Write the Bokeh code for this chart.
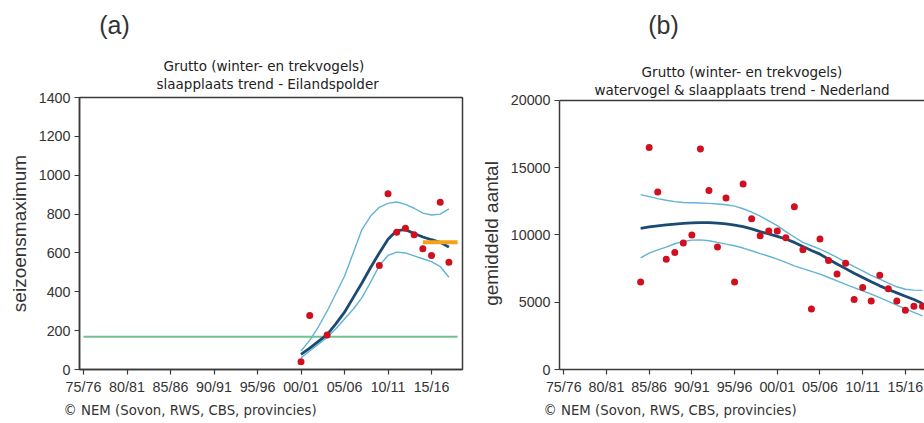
from bokeh.plotting import figure
from bokeh.layouts import row, column
from bokeh.models import FixedTicker, Range1d, Title, Label, Span
from bokeh.embed import file_html
from bokeh.resources import INLINE

# ---------------- data ----------------
tick_years = [1975, 1980, 1985, 1990, 1995, 2000, 2005, 2010, 2015]
tick_labels = ["75/76", "80/81", "85/86", "90/91", "95/96", "00/01", "05/06", "10/11", "15/16"]

# (a) Eilandspolder, roost counts (season maximum)
a_years = [2000, 2001, 2003, 2009, 2010, 2011, 2012, 2013, 2014, 2015, 2016, 2017]
a_counts = [40, 278, 178, 535, 904, 707, 727, 693, 621, 587, 861, 552]
a_trend_years = list(range(2000, 2018))
a_trend = [78, 110, 145, 180, 235, 295, 370, 445, 525, 600, 670, 715, 720, 700, 682, 668, 655, 630]
a_upper = [95, 150, 220, 300, 390, 480, 600, 720, 790, 835, 855, 862, 850, 830, 805, 795, 800, 827]
a_lower = [60, 95, 130, 165, 210, 260, 310, 370, 450, 535, 587, 604, 600, 585, 570, 555, 530, 475]
a_reference_years = [1975, 2018]
a_reference_level = [168, 168]
a_recent_years = [2014, 2018]
a_recent_mean = [655, 655]

# (b) Nederland, mean counts
b_years = list(range(1984, 2018))
b_counts = [6500, 16500, 13200, 8200, 8700, 9400, 10000, 16400, 13300, 9100,
            12750, 6500, 13800, 11200, 9950, 10300, 10300, 9800, 12100, 8900,
            4500, 9700, 8100, 7100, 7900, 5200, 6100, 5100, 7000, 6000,
            5100, 4400, 4700, 4700]
b_trend = [10500, 10600, 10680, 10750, 10810, 10860, 10900, 10920, 10920, 10880,
           10820, 10740, 10620, 10450, 10250, 10080, 9900, 9700, 9450, 9150,
           8850, 8580, 8200, 7850, 7500, 7150, 6840, 6520, 6220, 5950,
           5700, 5450, 5200, 4900]
b_upper = [13000, 12850, 12700, 12580, 12480, 12420, 12400, 12380, 12350, 12300,
           12250, 12150, 11950, 11700, 11400, 11050, 10700, 10250, 9850, 9450,
           9200, 8950, 8650, 8330, 7980, 7650, 7330, 7000, 6720, 6420,
           6150, 5970, 5900, 5880]
b_lower = [8300, 8650, 8900, 9100, 9350, 9520, 9620, 9640, 9570, 9450,
           9320, 9200, 9030, 8830, 8620, 8420, 8210, 7960, 7710, 7500,
           7300, 7090, 6840, 6590, 6330, 6090, 5840, 5600, 5340, 5060,
           4780, 4500, 4240, 3980]

title_line1 = "Grutto (winter- en trekvogels)"
a_title_line2 = "slaapplaats trend - Eilandspolder"
b_title_line2 = "watervogel & slaapplaats trend - Nederland"
source_note = "\u00a9 NEM (Sovon, RWS, CBS, provincies)"
panel_tags = ["(a)", "(b)"]

# ---------------- style ----------------
RED = "#d0101e"
NAVY = "#1b4a73"
LIGHT = "#62b4d4"
GREEN = "#72c28f"
ORANGE = "#f5a31a"
AXIS = "#3a3a3a"
TICKFONT = "Liberation Sans"
TXTFONT = "DejaVu Sans"


def style(p, yticks, ylabel):
    p.xgrid.visible = False
    p.ygrid.visible = False
    p.background_fill_color = "white"
    p.border_fill_color = "white"
    p.xaxis.ticker = FixedTicker(ticks=tick_years)
    p.xaxis.major_label_overrides = {y: l for y, l in zip(tick_years, tick_labels)}
    p.yaxis.ticker = FixedTicker(ticks=yticks)
    for ax in (p.xaxis[0], p.yaxis[0]):
        ax.axis_line_color = AXIS
        ax.axis_line_width = 1.5
        ax.major_tick_line_color = AXIS
        ax.major_tick_line_width = 1.2
        ax.major_tick_out = 5
        ax.major_tick_in = 0
        ax.minor_tick_line_color = None
        ax.major_label_text_font = TICKFONT
        ax.major_label_text_font_size = "14.3px"
        ax.major_label_text_color = "#333333"
        ax.major_label_standoff = 4
    p.yaxis.axis_label = ylabel
    p.yaxis.axis_label_text_font = TICKFONT
    p.yaxis.axis_label_text_font_size = "19px"
    p.yaxis.axis_label_text_font_style = "normal"
    p.yaxis.axis_label_text_color = "#333333"
    p.yaxis.axis_label_standoff = 6


def add_title(p, side, text, align, offset, standoff, size="13.5px", color="#222222"):
    p.add_layout(Title(text=text, align=align, offset=offset, standoff=standoff,
                       text_font=TXTFONT, text_font_size=size, text_font_style="normal",
                       text_color=color), side)


# ---------------- header with panel tags ----------------
HEAD = 48
header = figure(width=924, height=HEAD, x_range=Range1d(0, 924), y_range=Range1d(HEAD, 0),
                output_backend="svg", toolbar_location=None,
                x_axis_location=None, y_axis_location=None,
                min_border_left=0, min_border_right=0, min_border_top=0, min_border_bottom=0)
header.grid.visible = False
header.outline_line_color = None
for tag, xpos in zip(panel_tags, [114, 663]):
    header.add_layout(Label(x=xpos, y=24, text=tag, text_font=TICKFONT, text_font_size="25px",
                            text_align="center", text_baseline="middle", text_color="#333333"))

# ---------------- panel (a) ----------------
pa = figure(width=476, height=423 - HEAD, x_range=Range1d(1974.54, 2018.56), y_range=Range1d(0, 1400),
            output_backend="svg", toolbar_location=None,
            min_border_left=79, min_border_right=14, min_border_top=97 - HEAD, min_border_bottom=54)
style(pa, [0, 200, 400, 600, 800, 1000, 1200, 1400], "seizoensmaximum")
pa.outline_line_color = AXIS
pa.outline_line_width = 1.5
pa.outline_line_alpha = 1

pa.line(a_reference_years, a_reference_level, line_color=GREEN, line_width=2)
pa.line(a_trend_years, a_upper, line_color=LIGHT, line_width=1.4)
pa.line(a_trend_years, a_lower, line_color=LIGHT, line_width=1.4)
pa.line(a_trend_years, a_trend, line_color=NAVY, line_width=2.8)
pa.line(a_recent_years, a_recent_mean, line_color=ORANGE, line_width=4)
pa.scatter(a_years, a_counts, size=7, fill_color=RED, line_color=None)

add_title(pa, "above", a_title_line2, "left", 77, 12)
add_title(pa, "above", title_line1, "left", 84, -12)
add_title(pa, "below", source_note, "left", -16, 7, size="13.3px", color="#333333")

# ---------------- panel (b) ----------------
pb = figure(width=448, height=423 - HEAD, x_range=Range1d(1974.5, 2017.24), y_range=Range1d(0, 20223),
            output_backend="svg", toolbar_location=None,
            min_border_left=83, min_border_right=0, min_border_top=97 - HEAD, min_border_bottom=54)
style(pb, [0, 5000, 10000, 15000, 20000], "gemiddeld aantal")
pb.yaxis.bounds = (0, 20000)
pb.outline_line_color = None
pb.add_layout(Span(location=20000, dimension="width", line_color=AXIS, line_width=1.5))

pb.line(b_years, b_upper, line_color=LIGHT, line_width=1.4)
pb.line(b_years, b_lower, line_color=LIGHT, line_width=1.4)
pb.line(b_years, b_trend, line_color=NAVY, line_width=2.8)
pb.scatter(b_years, b_counts, size=7, fill_color=RED, line_color=None)

add_title(pb, "above", b_title_line2, "center", 0, 0)
add_title(pb, "above", title_line1, "center", 0, -1)
add_title(pb, "below", source_note, "left", -16, 7, size="13.3px", color="#333333")

layout = column(header, row(pa, pb, spacing=0), spacing=0)
open("out.html", "w").write(file_html(layout, INLINE))
